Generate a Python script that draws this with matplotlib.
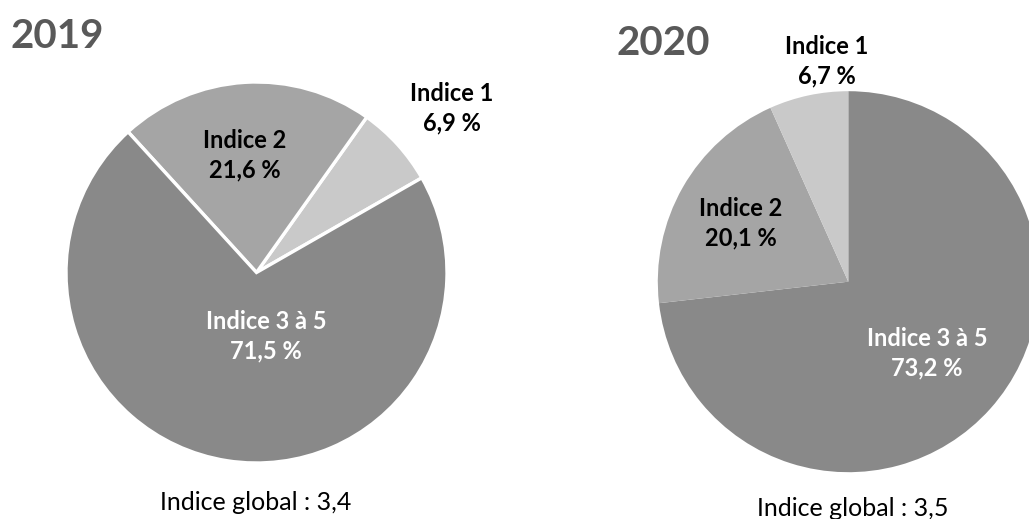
import numpy as np
import matplotlib
matplotlib.use("Agg")
import matplotlib.pyplot as plt

plt.rcParams['font.family'] = ['Lato', 'DejaVu Sans']

# data
labels_2019 = ["Indice 1", "Indice 2", "Indice 3 à 5"]
values_2019 = [6.9, 21.6, 71.5]
labels_2020 = ["Indice 3 à 5", "Indice 2", "Indice 1"]
values_2020 = [73.2, 20.1, 6.7]
global_2019 = "3,4"
global_2020 = "3,5"

col = {"Indice 1": "#c9c9c9", "Indice 2": "#a5a5a5", "Indice 3 à 5": "#898989"}
txtcol = {"Indice 1": "black", "Indice 2": "black", "Indice 3 à 5": "white"}

W, H = 1029, 519
fig = plt.figure(figsize=(W / 100, H / 100), dpi=100)
ax = fig.add_axes([0, 0, 1, 1])


def fmt(v):
    return f"{v:.1f}".replace(".", ",") + " %"


def draw_pie(values, labels, center, startangle, counterclock, edge, label_pos):
    ax.pie(values, colors=[col[l] for l in labels], center=center, radius=190.5,
           startangle=startangle, counterclock=counterclock,
           wedgeprops=dict(edgecolor="white", linewidth=edge))
    for lab, v in zip(labels, values):
        x, y = label_pos[lab]
        ax.text(x, H - y, f"{lab}\n{fmt(v)}", ha="center", va="center",
                fontsize=17, fontweight="bold", color=txtcol[lab], linespacing=1.35)


# label anchors in image pixels
pos_2019 = {"Indice 1": (452, 108), "Indice 2": (245, 155), "Indice 3 à 5": (266, 336)}
pos_2020 = {"Indice 1": (827, 61), "Indice 2": (741, 223), "Indice 3 à 5": (927, 353)}

draw_pie(values_2019, labels_2019, (256.5, H - 272.5), 29.8, True, 2.4, pos_2019)
draw_pie(values_2020, labels_2020, (848.3, H - 281.7), 90, False, 0, pos_2020)

ax.text(11, H - 48, "2019", fontsize=29, fontweight="bold", color="#595959",
        ha="left", va="baseline")
ax.text(617, H - 55, "2020", fontsize=29, fontweight="bold", color="#595959",
        ha="left", va="baseline")

ax.text(256, H - 510, f"Indice global : {global_2019}", fontsize=18,
        ha="center", va="baseline", color="black")
ax.text(853, H - 516, f"Indice global : {global_2020}", fontsize=18,
        ha="center", va="baseline", color="black")

ax.set_xlim(0, W)
ax.set_ylim(0, H)
ax.set_aspect("equal")
ax.axis("off")

fig.savefig("out.png", dpi=100)
